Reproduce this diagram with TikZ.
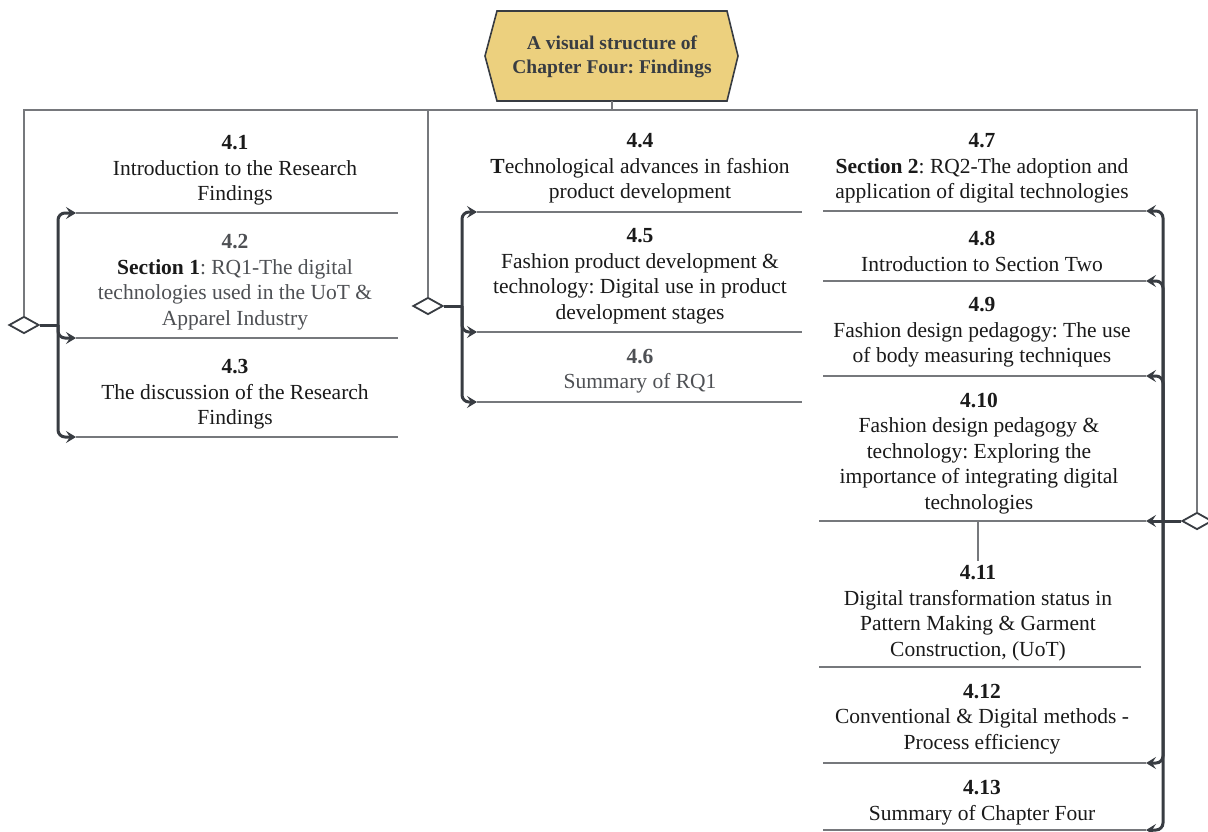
\documentclass[tikz,border=0pt]{standalone}
\usepackage{fontspec}
\setmainfont{Liberation Serif}
\usetikzlibrary{arrows.meta,shapes.geometric}
\definecolor{hexfill}{RGB}{236,208,126}
\definecolor{ink}{RGB}{26,26,26}
\definecolor{soft}{RGB}{78,80,84}
\definecolor{rulec}{RGB}{118,120,124}
\definecolor{brkc}{RGB}{56,60,66}
\frenchspacing
\begin{document}
\begin{tikzpicture}[x=1pt,y=-1pt,
  sec/.style={align=center,inner sep=0pt,text=ink,font=\fontsize{21.5}{25.5}\selectfont\frenchspacing},
  titletext/.style={align=center,inner sep=0pt,text=brkc,font=\fontsize{19.5}{24}\selectfont\bfseries\frenchspacing},
  rulel/.style={draw=rulec,line width=1.3pt},
  brk/.style={draw=brkc,line width=3pt,rounded corners=7pt},
  arr/.style={-{Stealth[length=10pt,width=12pt,inset=4pt]}},
  diam/.style={diamond,draw=brkc,fill=white,line width=1.8pt,inner sep=0pt,
    minimum width=30pt,minimum height=17pt}
]
\useasboundingbox (0,0) rectangle (1208,832);
\fill[white] (0,0) rectangle (1208,832);

% title hexagon
\draw[draw=brkc,fill=hexfill,line width=1.6pt]
  (497,11) -- (727,11) -- (738,56) -- (727,101) -- (497,101) -- (485,56) -- cycle;
\node[titletext] (title) at (612,57) {A visual structure of\\Chapter Four: Findings};
\coordinate (hexbot) at (612,101);
\coordinate (h0) at (612,110);

% diamonds
\node[diam] (d1) at (24,325) {};
\node[diam] (d2) at (428,306) {};
\node[diam] (d3) at (1197,521) {};

% top distribution line
\draw[rulel] (hexbot) -- (h0);
\draw[rulel] (d1.north) |- (d3.north |- h0) -- (d3.north);
\draw[rulel] (d2.north) -- (d2.north |- h0);

% ---------- left column ----------
\node[sec] (l41) at (235,170.5) {\textbf{4.1}\\Introduction to the Research\\Findings};
\node[sec] (l42) at (235,282) {\textcolor{soft}{\textbf{4.2}}\\\textbf{Section 1}\textcolor{soft}{: RQ1-The digital}\\\textcolor{soft}{technologies used in the UoT \&}\\\textcolor{soft}{Apparel Industry}};
\node[sec] (l43) at (235,394.5) {\textbf{4.3}\\The discussion of the Research\\Findings};

\coordinate (j1) at (58,325);
\coordinate (a41) at (76,213);  \coordinate (e41) at (398,213);
\coordinate (a42) at (76,338);  \coordinate (e42) at (398,338);
\coordinate (a43) at (76,437);  \coordinate (e43) at (398,437);
\draw[rulel] (a41) -- (e41);
\draw[rulel] (a42) -- (e42);
\draw[rulel] (a43) -- (e43);
\draw[brk] (d1.east) -- (j1);
\draw[brk,arr] (j1) |- (a41);
\draw[brk,arr] (j1) |- (a42);
\draw[brk,arr] (j1) |- (a43);

% ---------- middle column ----------
\node[sec] (l44) at (640,168.5) {\textbf{4.4}\\\textbf{T}echnological advances in fashion\\product development};
\node[sec] (l45) at (640,276) {\textbf{4.5}\\Fashion product development \&\\technology: Digital use in product\\development stages};
\node[sec,text=soft] (l46) at (640,371) {\textbf{4.6}\\Summary of RQ1};

\coordinate (j2) at (462,306);
\coordinate (a44) at (477,212); \coordinate (e44) at (802,212);
\coordinate (a45) at (477,332); \coordinate (e45) at (802,332);
\coordinate (a46) at (477,402); \coordinate (e46) at (802,402);
\draw[rulel] (a44) -- (e44);
\draw[rulel] (a45) -- (e45);
\draw[rulel] (a46) -- (e46);
\draw[brk] (d2.east) -- (j2);
\draw[brk,arr] (j2) |- (a44);
\draw[brk,arr] (j2) |- (a45);
\draw[brk,arr] (j2) |- (a46);

% ---------- right column ----------
\node[sec] (l47) at (982,168.5) {\textbf{4.7}\\\textbf{Section 2}: RQ2-The adoption and\\application of digital technologies};
\node[sec] (l48) at (982,251.5) {\textbf{4.8}\\Introduction to Section Two};
\node[sec] (l49) at (982,332.5) {\textbf{4.9}\\Fashion design pedagogy: The use\\of body measuring techniques};
\node[sec] (l410) at (979,453.5) {\textbf{4.10}\\Fashion design pedagogy \&\\technology: Exploring the\\importance of integrating digital\\technologies};
\node[sec] (l411) at (978,613) {\textbf{4.11}\\Digital transformation status in\\Pattern Making \& Garment\\Construction, (UoT)};
\node[sec] (l412) at (982,719) {\textbf{4.12}\\Conventional \& Digital methods -\\Process efficiency};
\node[sec] (l413) at (982,802.5) {\textbf{4.13}\\Summary of Chapter Four};

\coordinate (j3) at (1163,521);
\coordinate (b47) at (1146,211);  \coordinate (f47) at (823,211);
\coordinate (b48) at (1146,281);  \coordinate (f48) at (823,281);
\coordinate (b49) at (1146,376);  \coordinate (f49) at (823,376);
\coordinate (b410) at (1146,521); \coordinate (f410) at (819,521);
\coordinate (b411) at (1141,667); \coordinate (f411) at (819,667);
\coordinate (b412) at (1146,763); \coordinate (f412) at (823,763);
\coordinate (b413) at (1146,830); \coordinate (f413) at (823,830);
\draw[rulel] (b47) -- (f47);
\draw[rulel] (b48) -- (f48);
\draw[rulel] (b49) -- (f49);
\draw[rulel] (b410) -- (f410);
\draw[rulel] (b411) -- (f411);
\draw[rulel] (b412) -- (f412);
\draw[rulel] (b413) -- (f413);
\draw[rulel] (l411.north |- b410) -- ([yshift=4pt]l411.north);
\draw[brk] (d3.west) -- (j3);
\draw[brk,arr] (j3) |- (b47);
\draw[brk,arr] (j3) |- (b48);
\draw[brk,arr] (j3) |- (b49);
\draw[brk,arr] (j3) -- (b410);
\draw[brk,arr] (j3) |- (b412);
\draw[brk,arr] (j3) |- (b413);
\end{tikzpicture}
\end{document}
